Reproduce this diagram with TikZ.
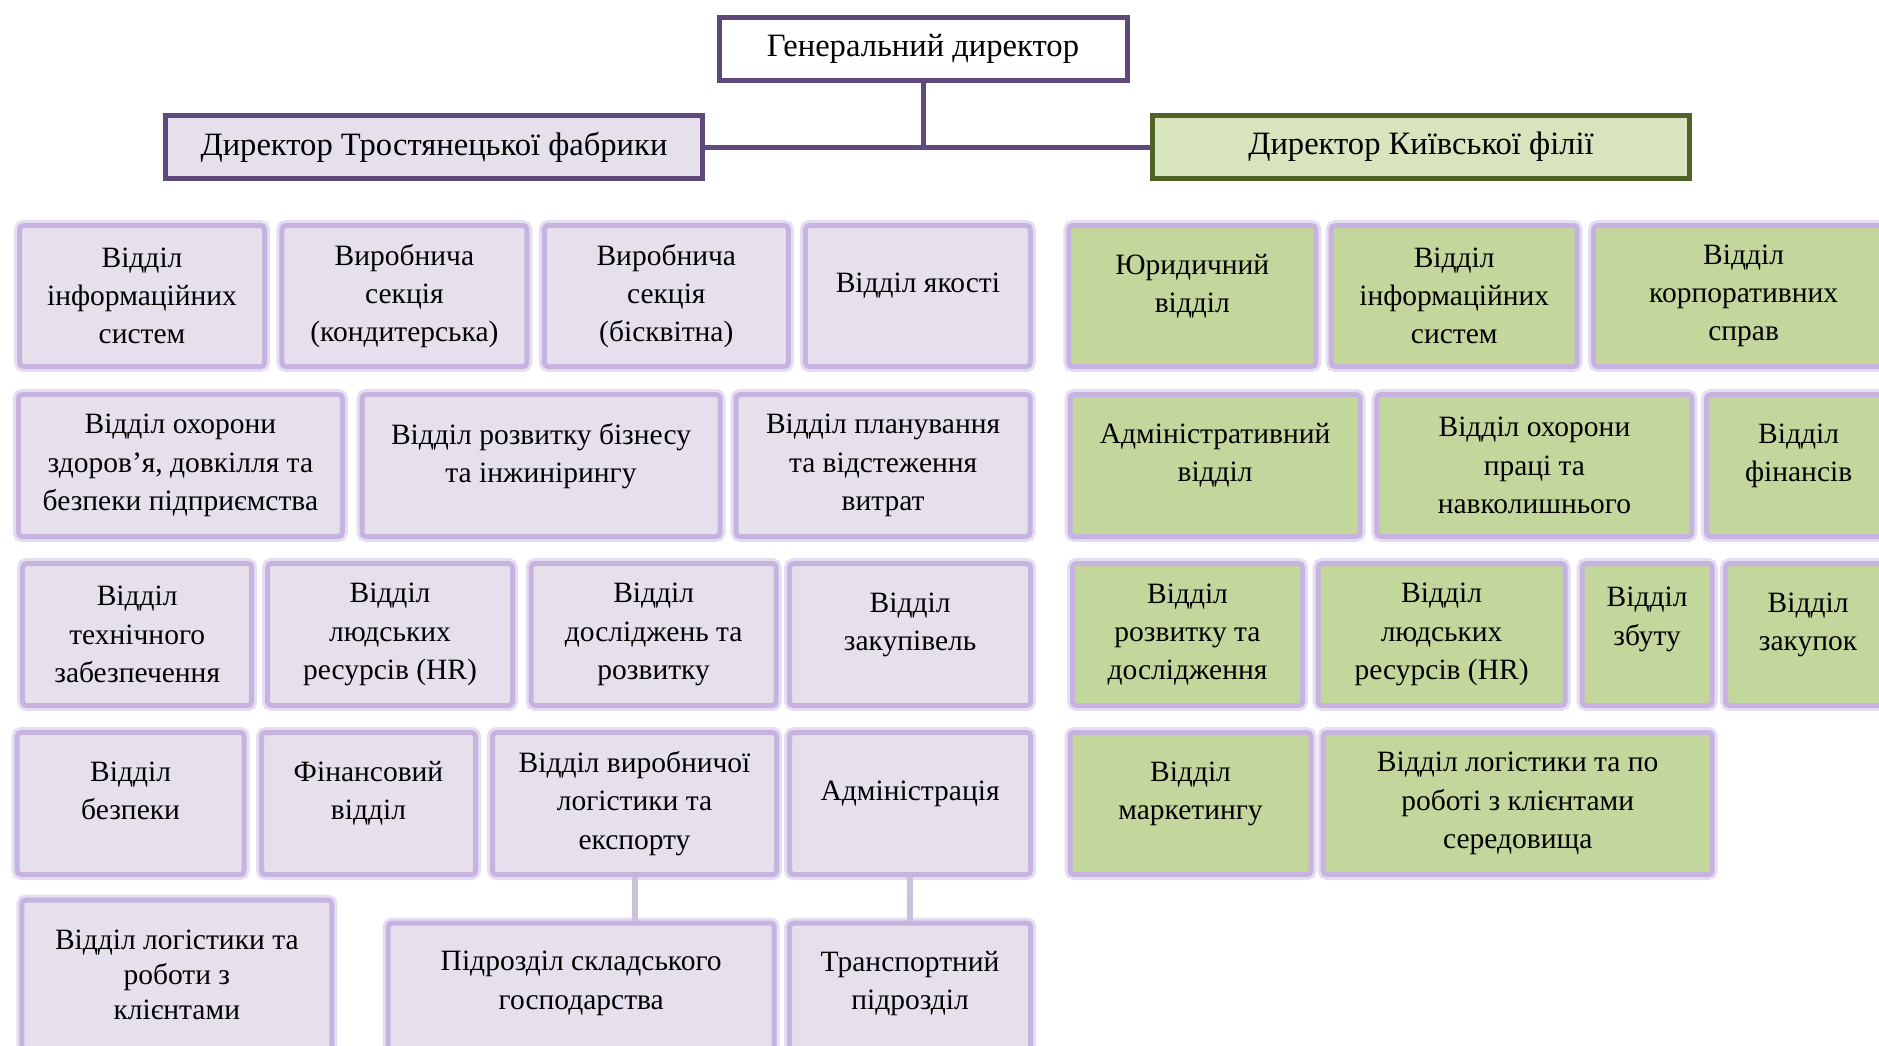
\documentclass[tikz,border=0pt]{standalone}
\usepackage{fontspec}
\setmainfont{Liberation Serif}
\usetikzlibrary{positioning}
\definecolor{chiefline}{HTML}{5F497A}
\definecolor{lilacfill}{HTML}{E5E0EC}
\definecolor{mossline}{HTML}{4F6228}
\definecolor{mossfill}{HTML}{D7E4BD}
\definecolor{leaffill}{HTML}{C3D69B}
\definecolor{glowline}{HTML}{C6B3DF}
\definecolor{stemline}{HTML}{CCC1DA}
\tikzset{
  head/.style={rectangle,draw=chiefline,line width=5pt,inner sep=0pt,
    font=\fontsize{32.6}{38}\selectfont},
  dept/.style={rectangle,rounded corners=4pt,draw=glowline,line width=5pt,
    preaction={draw=glowline!45,line width=11pt},inner sep=0pt,align=center,
    font=\fontsize{29.5}{38.3}\selectfont},
  plant/.style={dept,fill=lilacfill},
  branch/.style={dept,fill=leaffill},
  trunk/.style={draw=chiefline,line width=5pt},
  stem/.style={draw=stemline,line width=6pt},
}

\begin{document}
\begin{tikzpicture}[x=1pt,y=-1pt]
\useasboundingbox (0,0) rectangle (1879,1045);
\clip (0,0) rectangle (1879,1045);
% \draw[help lines,step=100] (0,0) grid (1879,1045);
\node (gd) [head,fill=white,minimum width=408,minimum height=63] at (923,48.5) {Генеральний директор};
\node (tf) [head,fill=lilacfill,minimum width=537,minimum height=63] at (434,147) {Директор Тростянецької фабрики};
\node (kf) [head,draw=mossline,fill=mossfill,minimum width=537,minimum height=63] at (1421,147) {Директор Київської філії};
%
\path[trunk] (gd.south) -- (gd.south |- tf.east);
\path[trunk] (tf.east) -- (kf.west);
%
% Тростянецька фабрика
\node (l1a) [plant,minimum width=245,minimum height=141] at (142,296) {Відділ\\інформаційних\\систем};
\node (l1b) [plant,minimum width=245,minimum height=141] at (404.4,296) {Виробнича\\секція\\(кондитерська)};
\node (l1c) [plant,minimum width=244,minimum height=141] at (666.3,296) {Виробнича\\секція\\(бісквітна)};
\node (l1d) [plant,minimum width=225,minimum height=141] at (917.9,296) {Відділ якості\\[-12.5pt]};
\node (l2a) [plant,minimum width=324,minimum height=142] at (180.4,465.5) {Відділ охорони\\здоров’я, довкілля та\\безпеки підприємства};
\node (l2b) [plant,minimum width=358,minimum height=142] at (541,465.5) {Відділ розвитку бізнесу\\та інжинірингу\\[-12.5pt]};
\node (l2c) [plant,minimum width=294,minimum height=142] at (883.1,465.5) {Відділ планування\\та відстеження\\витрат};
\node (l3a) [plant,minimum width=229,minimum height=142] at (137.2,634.5) {Відділ\\технічного\\забезпечення};
\node (l3b) [plant,minimum width=245,minimum height=142] at (390,634.5) {Відділ\\людських\\ресурсів (HR)};
\node (l3c) [plant,minimum width=245,minimum height=142] at (653.7,634.5) {Відділ\\досліджень та\\розвитку};
\node (l3d) [plant,minimum width=241,minimum height=142] at (910.1,634.5) {Відділ\\закупівель\\[-12.5pt]};
\node (l4a) [plant,minimum width=227,minimum height=142] at (130.6,803.5) {Відділ\\безпеки\\[-12.5pt]};
\node (l4b) [plant,minimum width=214,minimum height=142] at (368.5,803.5) {Фінансовий\\відділ\\[-12.5pt]};
\node (l4c) [plant,minimum width=284,minimum height=142] at (634.5,803.5) {Відділ виробничої\\логістики та\\експорту};
\node (l4d) [plant,minimum width=241,minimum height=142] at (910.1,803.5) {Адміністрація\\[-12.5pt]};
\node (l5a) [plant,minimum width=310,minimum height=150,font=\fontsize{29.5}{34.7}\selectfont] at (176.8,975) {Відділ логістики та\\роботи з\\клієнтами};
\node (l5b) [plant,minimum width=386,minimum height=140] at (581.2,993) {Підрозділ складського\\господарства\\[-12.5pt]};
\node (l5c) [plant,minimum width=241,minimum height=140] at (910.1,993) {Транспортний\\підрозділ\\[-12.5pt]};
%
\path[stem] (l4c.south) -- (l4c.south |- l5b.north);
\path[stem] (l4d.south) -- (l4d.south |- l5c.north);
%
% Київська філія
\node (r1a) [branch,minimum width=247,minimum height=141] at (1192.3,296) {Юридичний\\відділ\\[-12.5pt]};
\node (r1b) [branch,minimum width=246,minimum height=141] at (1454.2,296) {Відділ\\інформаційних\\систем};
\node (r1c) [branch,minimum width=300,minimum height=141] at (1743.6,296) {Відділ\\корпоративних\\справ};
\node (r2a) [branch,minimum width=290,minimum height=142] at (1215.1,465.5) {Адміністративний\\відділ\\[-12.5pt]};
\node (r2b) [branch,minimum width=315,minimum height=142] at (1534.4,465.5) {Відділ охорони\\праці та\\навколишнього};
\node (r2c) [branch,minimum width=184,minimum height=142] at (1798.6,465.5) {Відділ\\фінансів\\[-12.5pt]};
\node (r3a) [branch,minimum width=230,minimum height=142] at (1187.5,634.5) {Відділ\\розвитку та\\дослідження};
\node (r3b) [branch,minimum width=247,minimum height=142] at (1441.6,634.5) {Відділ\\людських\\ресурсів (HR)};
\node (r3c) [branch,minimum width=130,minimum height=142] at (1647.1,634.5) {Відділ\\збуту\\[-1.5pt]};
\node (r3d) [branch,minimum width=165,minimum height=142] at (1808.1,634.5) {Відділ\\закупок\\[-12.5pt]};
\node (r4a) [branch,minimum width=241,minimum height=142] at (1190.5,803.5) {Відділ\\маркетингу\\[-12.5pt]};
\node (r4b) [branch,minimum width=389,minimum height=142] at (1517.7,803.5) {Відділ логістики та по\\роботі з клієнтами\\середовища};
%
\end{tikzpicture}
\end{document}
